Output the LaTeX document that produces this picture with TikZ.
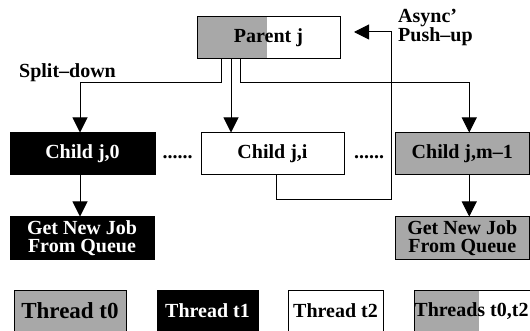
\documentclass[tikz,border=0pt]{standalone}
\usepackage{fontspec}
\setmainfont{Liberation Serif}
\usetikzlibrary{arrows.meta}
\definecolor{tgray}{RGB}{168,168,168}
\begin{document}
\begin{tikzpicture}[x=1pt,y=-1pt,
  lbl/.style={font=\bfseries\fontsize{20}{18}\selectfont},
  box/.style={draw,line width=1pt,inner sep=0pt,lbl,align=center,minimum height=42pt},
  blk/.style={box,fill=black,text=white},
  gry/.style={box,fill=tgray},
  wht/.style={box,fill=white},
  arr/.style={line width=1pt,-{Triangle[length=15pt,width=15pt]}},
  ln/.style={line width=1pt}]
\useasboundingbox (0,0) rectangle (530,331);
\clip (0,0) rectangle (530,331);

% parent
\node[wht,minimum width=143pt,
  path picture={\fill[tgray] (path picture bounding box.south west) rectangle ([xshift=70pt]path picture bounding box.north west);}]
  (parent) at (268.5,38) {Parent j};

% children
\node[blk,minimum width=145pt] (c0) at (82.5,154) {Child j,0};
\node[wht,minimum width=143pt] (ci) at (272.5,154) {Child j,i};
\node[gry,minimum width=134.5pt] (cm) at (462.25,154) {Child j,m--1};

\node[lbl] (d1) at (177.5,157) {......};
\node[lbl] (d2) at (369,157) {......};

% get new job
\node[blk,minimum width=144pt] (g0) at (82,238) {Get New Job\\From Queue};
\node[gry,minimum width=134.5pt] (gm) at (462.25,238) {Get New Job\\From Queue};

% labels
\node[lbl] (split) at (67.5,73) {Split--down};
\node[lbl,anchor=north west,align=left,inner sep=0pt] (async) at (398,9) {Async’\\Push--up};

% split-down connectors
\coordinate (yl) at (0,83);
\draw[arr] ([xshift=-47.5pt]parent.south) |- ([xshift=-2.5pt]c0.north |- yl) -- ([xshift=-2.5pt]c0.north);
\draw[arr] ([xshift=-37.5pt]parent.south) -- ([xshift=-37.5pt]parent.south |- ci.north);
\draw[arr] ([xshift=-28.5pt]parent.south) |- ([xshift=7pt]cm.north |- yl) -- ([xshift=7pt]cm.north);

% to queue
\draw[arr] ([xshift=-2.5pt]c0.south) -- ([xshift=-2.5pt]c0.south |- g0.north);
\draw[arr] ([xshift=7pt]cm.south) -- ([xshift=7pt]cm.south |- gm.north);

% push-up
\coordinate (pu) at (391,200);
\coordinate (ptip) at (354,32);
\draw[arr] ([xshift=3.5pt]ci.south) |- (pu) |- (ptip);

% legend
\node[gry,minimum width=112pt,font=\bfseries\fontsize{23}{22}\selectfont] (t0) at (70,311) {Thread t0};
\node[blk,minimum width=101pt] (t1) at (207.5,311) {Thread t1};
\node[wht,minimum width=95pt] (t2) at (335.5,311) {Thread t2};
\node[wht,minimum width=120pt,
  path picture={\fill[tgray] (path picture bounding box.south west) rectangle ([xshift=65pt]path picture bounding box.north west);}]
  (t02) at (475,311) {Threads t0,t2\hspace*{7pt}};
\end{tikzpicture}
\end{document}
